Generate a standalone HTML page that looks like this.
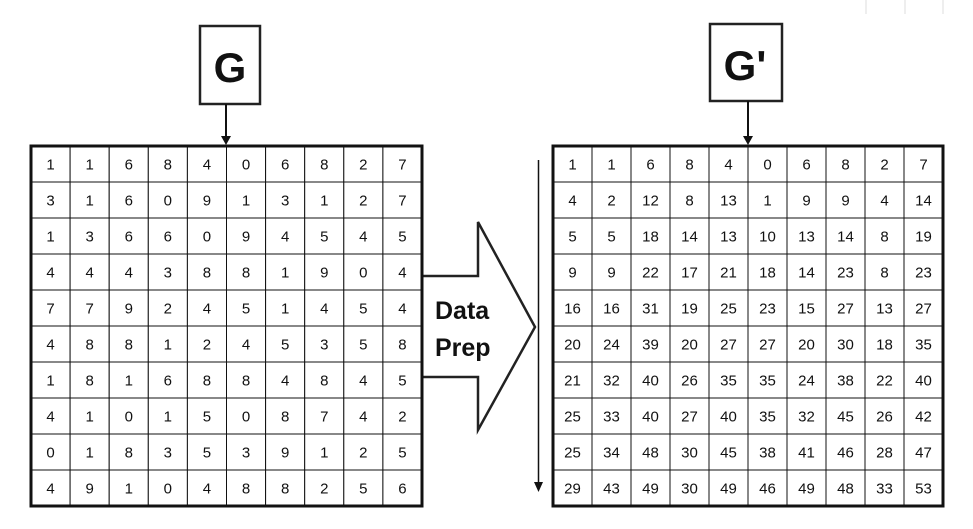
<!DOCTYPE html>
<html><head><meta charset="utf-8"><style>
html,body{margin:0;padding:0;background:#fff;}
svg{display:block;font-family:"Liberation Sans",sans-serif;}
</style></head><body>
<svg id="s" width="973" height="529" viewBox="0 0 973 529">
  <g stroke="#ddd" stroke-width="1">
    <line x1="866" y1="0" x2="866" y2="14"/><line x1="905" y1="0" x2="905" y2="14"/><line x1="943" y1="0" x2="943" y2="14"/>
  </g>
  <g>
    <rect x="200" y="26" width="60" height="78" fill="#fff" stroke="#222" stroke-width="2.5"/>
    <text x="230" y="82" text-anchor="middle" font-size="42" font-weight="bold" fill="#111">G</text>
  </g>
  <g>
    <line x1="226" y1="104" x2="226" y2="138" stroke="#111" stroke-width="2"/>
    <polygon points="221,136 231,136 226,145" fill="#111"/>
  </g>
  <g>
    <rect x="710" y="24" width="72" height="77" fill="#fff" stroke="#222" stroke-width="2.5"/>
    <text x="745" y="80" text-anchor="middle" font-size="42" font-weight="bold" fill="#111">G'</text>
  </g>
  <g>
    <line x1="748" y1="101" x2="748" y2="138" stroke="#111" stroke-width="2"/>
    <polygon points="743,136 753,136 748,145" fill="#111"/>
  </g>
  <g>
    <polygon points="422,276 478,276 478,222 535,327 478,430 478,377 422,377" fill="#fff" stroke="#222" stroke-width="2.5"/>
    <text x="435" y="319" font-size="25" font-weight="bold" fill="#111">Data</text>
    <text x="435" y="356" font-size="25" font-weight="bold" fill="#111">Prep</text>
  </g>
  <g>
    <line x1="538.5" y1="160" x2="538.5" y2="484" stroke="#111" stroke-width="1.5"/>
    <polygon points="534,482 543,482 538.5,492" fill="#111"/>
  </g>
  <g id="gridL"></g>
  <g id="gridR"></g>
</svg>
<script>
const gValues = [
[1,1,6,8,4,0,6,8,2,7],
[3,1,6,0,9,1,3,1,2,7],
[1,3,6,6,0,9,4,5,4,5],
[4,4,4,3,8,8,1,9,0,4],
[7,7,9,2,4,5,1,4,5,4],
[4,8,8,1,2,4,5,3,5,8],
[1,8,1,6,8,8,4,8,4,5],
[4,1,0,1,5,0,8,7,4,2],
[0,1,8,3,5,3,9,1,2,5],
[4,9,1,0,4,8,8,2,5,6]];
const gPrimeValues = [
[1,1,6,8,4,0,6,8,2,7],
[4,2,12,8,13,1,9,9,4,14],
[5,5,18,14,13,10,13,14,8,19],
[9,9,22,17,21,18,14,23,8,23],
[16,16,31,19,25,23,15,27,13,27],
[20,24,39,20,27,27,20,30,18,35],
[21,32,40,26,35,35,24,38,22,40],
[25,33,40,27,40,35,32,45,26,42],
[25,34,48,30,45,38,41,46,28,47],
[29,43,49,30,49,46,49,48,33,53]];
const NS="http://www.w3.org/2000/svg";
function drawGrid(gid, vals, x0, x1, y0, y1, prefix){
  const g=document.getElementById(gid);
  const rows=vals.length, cols=vals[0].length;
  const cw=(x1-x0)/cols, rh=(y1-y0)/rows;
  for(let r=0;r<rows;r++)for(let c=0;c<cols;c++){
    const rect=document.createElementNS(NS,'rect');
    rect.setAttribute('x',x0+c*cw);rect.setAttribute('y',y0+r*rh);
    rect.setAttribute('width',cw);rect.setAttribute('height',rh);
    rect.setAttribute('fill','#fff');rect.setAttribute('stroke','#111');rect.setAttribute('stroke-width','1');
    
    
    g.appendChild(rect);
    const t=document.createElementNS(NS,'text');
    t.setAttribute('x',x0+c*cw+cw/2);t.setAttribute('y',y0+r*rh+rh/2+5.5);
    t.setAttribute('text-anchor','middle');t.setAttribute('font-size','15');t.setAttribute('fill','#111');
    t.textContent=vals[r][c];
    
    
    g.appendChild(t);
  }
  const b=document.createElementNS(NS,'rect');
  b.setAttribute('x',x0);b.setAttribute('y',y0);b.setAttribute('width',x1-x0);b.setAttribute('height',y1-y0);
  b.setAttribute('fill','none');b.setAttribute('stroke','#111');b.setAttribute('stroke-width','3');
  
  
  g.appendChild(b);
}
drawGrid('gridL', gValues, 31, 422, 146, 506);
drawGrid('gridR', gPrimeValues, 553, 943, 146, 506);
</script>
</body></html>
